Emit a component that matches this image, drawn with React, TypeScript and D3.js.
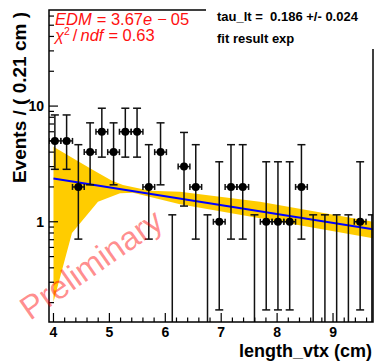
import * as d3 from "d3"

// histogram of length_vtx, bin width 0.21 cm
const binCenters = [
  4.025, 4.235, 4.445, 4.655, 4.865, 5.075, 5.285, 5.495, 5.705, 5.915,
  6.125, 6.335, 6.545, 6.755, 6.965, 7.175, 7.385, 7.595, 7.805, 8.015,
  8.225, 8.435, 8.645, 8.855, 9.065, 9.275, 9.485, 9.695,
]
const counts = [5, 5, 2, 4, 6, 4, 6, 6, 2, 4, 0, 3, 2, 0, 1, 2, 2, 0, 1, 1, 1, 2, 0, 0, 0, 0, 1, 0]

// 68% Poisson intervals indexed by count
const poissonLow = [0, 0.173, 0.708, 1.367, 2.086, 2.84, 3.62]
const poissonHigh = [1.148, 3.3, 4.638, 5.918, 7.163, 8.382, 9.584]

// fitted exponential (straight on log axis) and its error band
const fitX = [4.0, 9.715]
const fitY = [2.37, 0.86]
const bandUpX = [4.0, 4.707, 5.047, 5.243, 5.726, 6.263, 7.694, 9.715]
const bandUpY = [4.45, 2.8, 2.26, 2.08, 1.85, 1.82, 1.49, 1.0]
const bandLoX = [4.0, 4.331, 4.796, 5.19, 5.422, 6.263, 7.694, 9.715]
const bandLoY = [0.202, 0.8, 1.49, 1.76, 1.78, 1.42, 1.07, 0.72]

const xMajor = [4, 5, 6, 7, 8, 9]
const yMajor = [1, 10]
const yMinor = [0.2, 0.3, 0.4, 0.5, 0.6, 0.7, 0.8, 0.9, 2, 3, 4, 5, 6, 7, 8, 9, 20, 30, 40, 50, 60]

const W = 374
const H = 362
const left = 49
const right = 373
const top = 10
const bottom = 322
const font = "'Liberation Sans', Arial, sans-serif"

export default function App() {
  const x = d3.scaleLinear().domain([3.92, 9.715]).range([left, right])
  const y = d3.scaleLog().domain([0.136, 67.7]).range([bottom, top])

  const xMinor = d3.range(40, 98, 2).map((v) => v / 10).filter((v) => !xMajor.includes(v))

  const bandPts: [number, number][] = [
    ...bandUpX.map((v, i) => [x(v), y(bandUpY[i])] as [number, number]),
    ...bandLoX.map((v, i) => [x(v), y(bandLoY[i])] as [number, number]).reverse(),
  ]
  const bandPath = d3.line()(bandPts) + "Z"
  const fitPath = d3.line()(fitX.map((v, i) => [x(v), y(fitY[i])] as [number, number]))

  const halfBin = (x(0.21) - x(0)) / 2

  return (
    <svg width={W} height={H} style={{ position: "fixed", left: 0, top: 0, background: "#fff" }} fontFamily={font}>
      <defs>
        <clipPath id="plot">
          <rect x={left} y={top} width={right - left} height={bottom - top} />
        </clipPath>
      </defs>
      <rect width={W} height={H} fill="#fff" />

      <g clipPath="url(#plot)">
        <path d={bandPath} fill="#ffcc00" />
        <path d={fitPath!} fill="none" stroke="#0000ff" strokeWidth={2} />

        {counts.map((n, i) => {
          const cx = x(binCenters[i])
          const yHi = y(poissonHigh[n])
          const yLo = n === 0 ? bottom + 5 : y(poissonLow[n])
          const cy = n === 0 ? null : y(n)
          return (
            <g key={i} stroke="#111" strokeWidth={1.5}>
              <line x1={cx} x2={cx} y1={yHi} y2={yLo} />
              <line x1={cx - 4} x2={cx + 4} y1={yHi} y2={yHi} />
              {n > 0 && <line x1={cx - 4} x2={cx + 4} y1={yLo} y2={yLo} />}
              {cy !== null && (
                <>
                  <line x1={cx - halfBin} x2={cx + halfBin} y1={cy} y2={cy} />
                  <line x1={cx - halfBin} x2={cx - halfBin} y1={cy - 3} y2={cy + 3} />
                  <line x1={cx + halfBin} x2={cx + halfBin} y1={cy - 3} y2={cy + 3} />
                  <circle cx={cx} cy={cy} r={4} fill="#000" stroke="none" />
                </>
              )}
            </g>
          )
        })}
      </g>

      {/* frame and axes */}
      <rect x={left} y={top} width={right - left} height={bottom - top} fill="none" stroke="#000" strokeWidth={1.5} />
      <g stroke="#000" strokeWidth={1.2}>
        {xMajor.map((v) => (
          <line key={"xM" + v} x1={x(v)} x2={x(v)} y1={bottom} y2={bottom - 9} />
        ))}
        {xMinor.map((v) => (
          <line key={"xm" + v} x1={x(v)} x2={x(v)} y1={bottom} y2={bottom - 4.5} />
        ))}
        {yMajor.map((v) => (
          <line key={"yM" + v} x1={left} x2={left + 9} y1={y(v)} y2={y(v)} />
        ))}
        {yMinor.map((v) => (
          <line key={"ym" + v} x1={left} x2={left + 5} y1={y(v)} y2={y(v)} />
        ))}
      </g>
      <g fontWeight="bold" fontSize={14} fill="#000">
        {xMajor.map((v) => (
          <text key={"xl" + v} x={x(v)} y={337} textAnchor="middle">
            {v}
          </text>
        ))}
        {yMajor.map((v) => (
          <text key={"yl" + v} x={44} y={y(v) + 5} textAnchor="end">
            {v}
          </text>
        ))}
      </g>

      <text x={372} y={357} textAnchor="end" fontWeight="bold" fontSize={18}>
        length_vtx (cm)
      </text>
      <text transform="translate(26,12) rotate(-90)" textAnchor="end" fontWeight="bold" fontSize={19}>
        Events / ( 0.21 cm )
      </text>

      {/* fit result box */}
      <rect x={206} y={0} width={W - 206} height={49} fill="#fff" />
      <g fontWeight="bold" fontSize={13} fill="#000">
        <text x={217} y={21} xmlSpace="preserve">tau_lt =  0.186 +/- 0.024</text>
        <text x={217} y={43}>fit result exp</text>
      </g>

      <g fill="#ff1010" fontSize={16.5}>
        <text x={55} y={25} xmlSpace="preserve">
          <tspan fontStyle="italic">EDM</tspan>
          <tspan dx={5}>= 3.67</tspan>
          <tspan fontStyle="italic">e</tspan>
          <tspan dx={5}>−</tspan>
          <tspan dx={4}>05</tspan>
        </text>
        <text x={55} y={41} xmlSpace="preserve">
          <tspan fontStyle="italic">χ</tspan>
          <tspan fontSize={10.5} dy={-6}>2</tspan>
          <tspan dy={6} dx={3}>/</tspan>
          <tspan fontStyle="italic" dx={3}>ndf</tspan>
          <tspan dx={5}>= 0.63</tspan>
        </text>
      </g>

      <text
        transform="translate(30,321) rotate(-35)"
        fontSize={33}
        fill="#ff0000"
        fillOpacity={0.45}
      >
        Preliminary
      </text>
    </svg>
  )
}
